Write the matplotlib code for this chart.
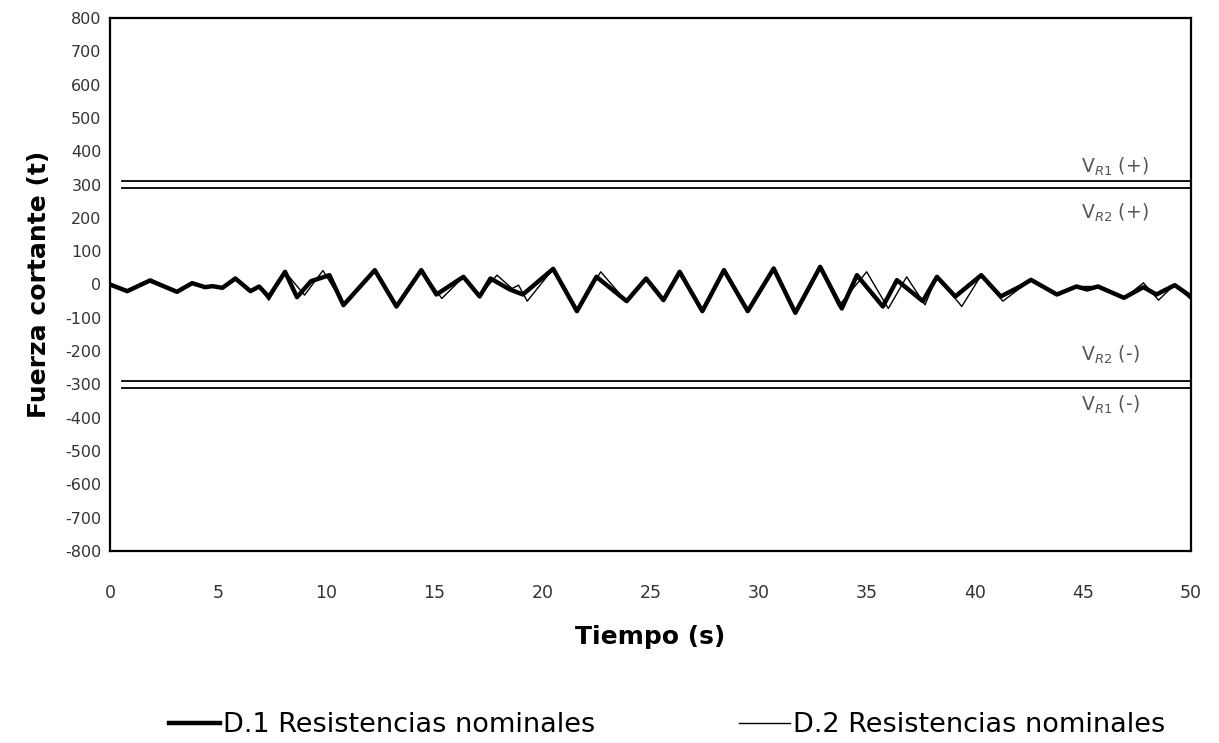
import matplotlib
matplotlib.use("Agg")
import matplotlib.pyplot as plt

plt.rcParams['font.family'] = ['DejaVu Sans']
plt.rcParams['axes.unicode_minus'] = False

# Data (peaks / troughs)
t_d1 = [0, 0.8, 1.85, 3.1, 3.8, 4.4, 4.75, 5.2, 5.8, 6.5, 6.9, 7.35, 8.1, 8.65, 9.3, 10.15,
        10.8, 12.25, 13.25, 14.4, 15.1, 16.35, 17.1, 17.6, 18.5, 19.1, 20.5, 21.6, 22.5, 23.9,
        24.8, 25.6, 26.35, 27.4, 28.4, 29.5, 30.7, 31.7, 32.85, 33.85, 34.55, 35.75, 36.4,
        37.6, 38.25, 39.1, 40.3, 41.2, 42.1, 42.6, 43.8, 44.7, 45.2, 45.7, 46.9, 47.8, 48.4,
        49.25, 50]
v_d1 = [0, -20, 12, -22, 4, -8, -5, -10, 18, -20, -6, -37, 38, -38, 10, 28,
        -62, 43, -66, 43, -30, 23, -36, 18, -15, -30, 47, -80, 23, -50,
        18, -47, 38, -80, 43, -80, 48, -85, 53, -72, 28, -66, 13,
        -50, 23, -36, 28, -36, -6, 14, -30, -6, -15, -6, -40, -8, -30,
        -2, -36]

t_d2 = [0, 0.8, 1.9, 3.1, 3.8, 4.5, 5.2, 5.8, 6.5, 6.9, 7.35, 8.1, 9.0, 9.85, 10.8,
        12.25, 13.25, 14.4, 15.35, 16.35, 17.1, 17.9, 18.6, 18.9, 19.3, 20.5, 21.6, 22.7,
        23.9, 24.8, 25.6, 26.4, 27.4, 28.4, 29.5, 30.7, 31.7, 32.85, 33.7, 35.0, 36.0,
        36.85, 37.7, 38.25, 39.4, 40.3, 41.3, 42.6, 43.85, 44.7, 45.7, 46.9, 47.8, 48.5,
        49.25, 50]
v_d2 = [0, -18, 16, -22, 4, -6, -10, 18, -22, -8, -47, 38, -32, 42, -58,
        43, -64, 43, -42, 23, -34, 28, -12, -2, -50, 47, -78, 38,
        -52, 18, -45, 40, -78, 45, -78, 48, -82, 50, -65, 38, -72,
        23, -61, 25, -66, 28, -50, 14, -32, -6, -6, -42, 5, -47,
        0, -45]

resist_vals = [310, 290, -290, -310]
resist_labels = [r"V$_{R1}$ (+)", r"V$_{R2}$ (+)", r"V$_{R2}$ (-)", r"V$_{R1}$ (-)"]
label_y = [352, 214, -211, -361]

x_ticks = list(range(0, 51, 5))
y_ticks = list(range(-800, 801, 100))

fig = plt.figure(figsize=(12.19, 7.43), dpi=100)
ax = fig.add_axes([0.0902, 0.2584, 0.977 - 0.0902, 0.9758 - 0.2584])

for v in resist_vals:
    ax.plot([0.55, 50], [v, v], color='black', lw=1.3)
for lab, y in zip(resist_labels, label_y):
    ax.text(44.9, y, lab, fontsize=13.5, color='#555555', va='center', ha='left')

l1, = ax.plot(t_d1, v_d1, color='black', lw=3.2, solid_joinstyle='round',
              label='D.1 Resistencias nominales')
l2, = ax.plot(t_d2, v_d2, color='black', lw=1.0, solid_joinstyle='round',
              label='D.2 Resistencias nominales')

ax.set_xlim(0, 50)
ax.set_ylim(-800, 800)
ax.set_xticks(x_ticks)
ax.set_yticks(y_ticks)
ax.tick_params(axis='both', length=0, labelcolor='#333333')
ax.tick_params(axis='x', pad=24, labelsize=12.5)
ax.tick_params(axis='y', pad=6, labelsize=11.5)
for s in ax.spines.values():
    s.set_linewidth(1.6)

ax.set_xlabel('Tiempo (s)', fontsize=18, fontweight='bold', labelpad=16)
ax.set_ylabel('Fuerza cortante (t)', fontsize=18, fontweight='bold', labelpad=10)

fig.legend(handles=[l1, l2], loc='center', bbox_to_anchor=(0.547, 0.024), ncol=2,
           frameon=False, fontsize=19.5, handlelength=1.9, handletextpad=0.1,
           columnspacing=5.3)

fig.savefig('out.png', dpi=100)
